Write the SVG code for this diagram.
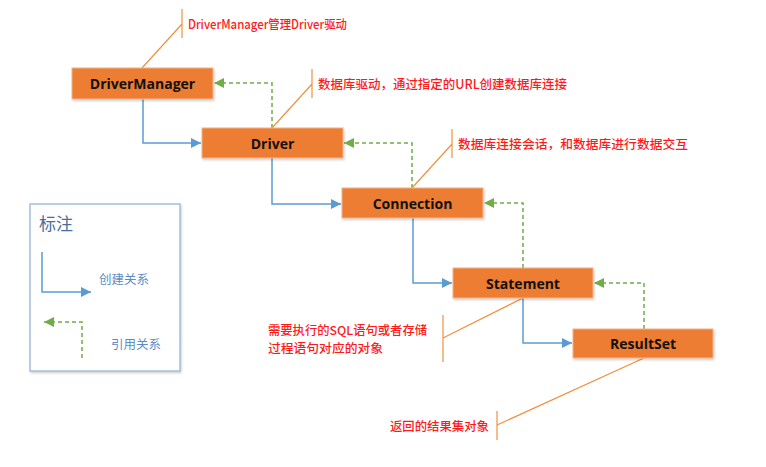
<svg xmlns="http://www.w3.org/2000/svg" width="766" height="467" viewBox="0 0 766 467">
<style>
.box{fill:#ED7D31;stroke:#F2B48A;stroke-width:1}
.lbl{font-family:"Open Sans","Noto Sans CJK SC",sans-serif;font-weight:bold;font-size:14px;fill:#111;text-anchor:middle;dominant-baseline:central}
.note{font-family:"Noto Sans CJK SC","Open Sans",sans-serif;font-size:12.5px;font-weight:500;fill:#FF1A1A;dominant-baseline:central}
.create{fill:none;stroke:#5B9BD5;stroke-width:1.5}
.ref{fill:none;stroke:#70AD47;stroke-width:1.5;stroke-dasharray:4 3}
.call{fill:none;stroke:#F0913F;stroke-width:1.2}
.leg{font-family:"Noto Sans CJK SC",sans-serif;fill:#5B8CC4;dominant-baseline:central}
</style>
<defs>
<marker id="ab" markerUnits="userSpaceOnUse" markerWidth="10" markerHeight="10" refX="10" refY="5" orient="auto"><path d="M0,0 L10,5 L0,10 Z" fill="#5B9BD5"/></marker>
<marker id="ag" markerUnits="userSpaceOnUse" markerWidth="10" markerHeight="10" refX="10" refY="5" orient="auto"><path d="M0,0 L10,5 L0,10 Z" fill="#70AD47"/></marker>
<filter id="sh" x="-10%" y="-20%" width="120%" height="150%"><feDropShadow dx="1" dy="1.5" stdDeviation="1" flood-color="#000" flood-opacity="0.2"/></filter>
</defs>
<rect width="766" height="467" fill="#fff"/>

<g id="connectors">
<path class="create" d="M143,99 V143 H201" marker-end="url(#ab)"/>
<path class="create" d="M272,158 V204 H341" marker-end="url(#ab)"/>
<path class="create" d="M413,218 V283 H452" marker-end="url(#ab)"/>
<path class="create" d="M523,298 V343 H572" marker-end="url(#ab)"/>
<path class="ref" d="M272,128 V83 H214" marker-end="url(#ag)"/>
<path class="ref" d="M412,188 V143 H344" marker-end="url(#ag)"/>
<path class="ref" d="M523,268 V203 H484" marker-end="url(#ag)"/>
<path class="ref" d="M644,329 V283 H594" marker-end="url(#ag)"/>
</g>

<g id="callouts">
<path class="call" d="M142,68 L182,24 M182,9 V38"/>
<path class="call" d="M272,128 L312,84 M312,69 V98"/>
<path class="call" d="M412,188 L452,144 M452,129 V158"/>
<path class="call" d="M523,298 L443,338 M443,315 V362"/>
<path class="call" d="M644,358 L497,425 M497,411 V440"/>
<text class="note" x="188" y="23" textLength="159" lengthAdjust="spacingAndGlyphs">DriverManager管理Driver驱动</text>
<text class="note" x="318" y="83" textLength="249" lengthAdjust="spacingAndGlyphs">数据库驱动，通过指定的URL创建数据库连接</text>
<text class="note" x="458" y="143" textLength="230" lengthAdjust="spacingAndGlyphs">数据库连接会话，和数据库进行数据交互</text>
<text class="note" x="268" y="329" textLength="159" lengthAdjust="spacingAndGlyphs" style="font-size:12px">需要执行的SQL语句或者存储</text>
<text class="note" x="268" y="347.5" textLength="115" lengthAdjust="spacingAndGlyphs" style="font-size:12px">过程语句对应的对象</text>
<text class="note" x="390" y="425" textLength="99" lengthAdjust="spacingAndGlyphs">返回的结果集对象</text>
</g>

<g id="DriverManager"><rect class="box" x="72" y="68" width="141" height="31" filter="url(#sh)"/><text class="lbl" x="142.5" y="83.5">DriverManager</text></g>
<g id="Driver"><rect class="box" x="202" y="128" width="141" height="30" filter="url(#sh)"/><text class="lbl" x="272.5" y="143">Driver</text></g>
<g id="Connection"><rect class="box" x="342" y="188" width="141" height="30" filter="url(#sh)"/><text class="lbl" x="412.5" y="203">Connection</text></g>
<g id="Statement"><rect class="box" x="453" y="268" width="140" height="30" filter="url(#sh)"/><text class="lbl" x="523" y="283">Statement</text></g>
<g id="ResultSet"><rect class="box" x="573" y="329" width="140" height="29" filter="url(#sh)"/><text class="lbl" x="643" y="343.5">ResultSet</text></g>

<g id="legend">
<rect x="30" y="204" width="150" height="167" fill="#fff" stroke="#8FAFD6" stroke-width="1.2" filter="url(#sh)"/>
<text class="leg" x="39" y="222" font-size="17" style="fill:#4A6E9A">标注</text>
<path class="create" d="M42,252 V292 H91" marker-end="url(#ab)"/>
<text class="leg" x="99" y="278" font-size="12.5">创建关系</text>
<path class="ref" d="M82,358 V322 H44" marker-end="url(#ag)"/>
<text class="leg" x="111" y="343" font-size="12.5">引用关系</text>
</g>
</svg>
